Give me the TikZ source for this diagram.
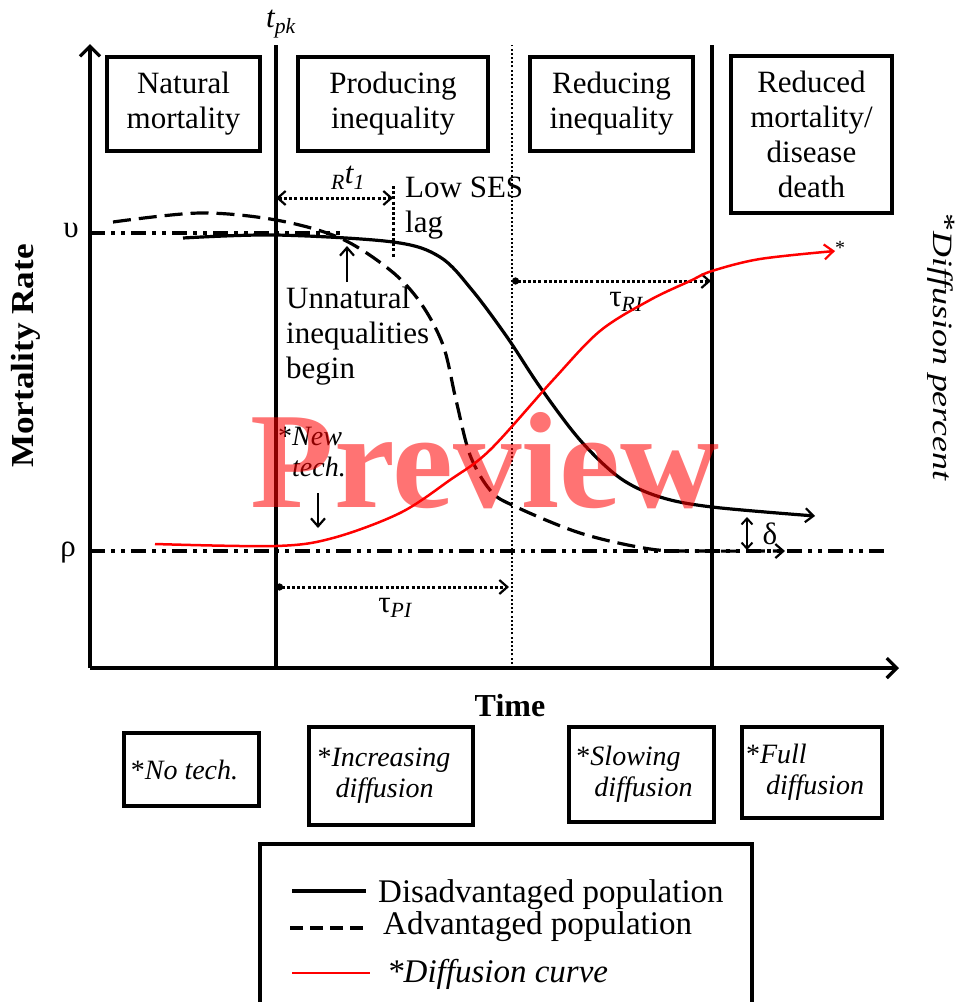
\documentclass[tikz,border=0pt]{standalone}
\usepackage{fontspec}
\setmainfont{Liberation Serif}
\usepackage{graphicx}
\usetikzlibrary{arrows.meta}
\newcommand\fA{\fontsize{31}{35}\selectfont}
\newcommand\fB{\fontsize{28}{31}\selectfont}
\tikzset{
  box/.style={draw, line width=3.6pt, align=center, inner sep=0pt, font=\fA},
  bbox/.style={draw, line width=3.4pt, align=left, inner sep=0pt, font=\fB\itshape},
  lbl/.style={inner sep=0pt, font=\fA},
  axisline/.style={line width=3.6pt, -{Straight Barb[length=10pt,width=20pt,line width=3.2pt]}},
  phase/.style={line width=3.8pt},
  ddotline/.style={line width=3.6pt, dash pattern=on 15pt off 6pt on 4pt off 6pt on 4pt off 6pt},
  thindot/.style={line width=2pt, dash pattern=on 2pt off 2.2pt},
  dotarr/.style={line width=3pt, dash pattern=on 3pt off 2.2pt},
  disadv/.style={line width=3.2pt},
  adv/.style={line width=3.2pt, dash pattern=on 18pt off 8pt},
  diffc/.style={line width=2.5pt, red},
  smallarr/.style={line width=2.6pt},
}
\begin{document}
\begin{tikzpicture}[x=1pt,y=-1pt,>={Straight Barb[length=8pt,width=14pt,line width=2.2pt]}]
\useasboundingbox (0,0) rectangle (962,1002);
\clip (0,0) rectangle (962,1002);

% axes
\coordinate (O) at (90,668);
\coordinate (ytop) at (90,44);
\coordinate (xend) at (899,668);
\draw[axisline] (O) -- (ytop);
\draw[axisline] (O) -- (xend);

% phase lines
\coordinate (pkT) at (276,45); \coordinate (pkB) at (276,668);
\coordinate (dT) at (512,45); \coordinate (dB) at (512,668);
\coordinate (fT) at (712,45); \coordinate (fB) at (712,668);
\draw[phase] (pkB) -- (pkT);
\draw[thindot] (dB) -- (dT);
\draw[phase] (fB) -- (fT);

% level lines
\coordinate (uL) at (90,233); \coordinate (uR) at (340,233);
\coordinate (rL) at (90,551); \coordinate (rR) at (888,551);
\draw[ddotline] (uL) -- (uR);
\draw[ddotline] (rL) -- (rR);

% axis labels
\node[lbl] (upsilon) at (71,230) {υ};
\node[lbl] (rho) at (68,553) {ρ};
\node[lbl, font=\fA\itshape] (tpk) at (281,24) {t\textsubscript{pk}};
\node[inner sep=0pt, rotate=90, font=\fontsize{32}{32}\selectfont\bfseries] (mrate) at (26,356) {\scalebox{1.1}[1]{Mortality Rate}};
\node[inner sep=0pt, rotate=-90, font=\fontsize{28}{28}\selectfont\itshape] (dperc) at (941,347) {\scalebox{1.28}[1]{\raisebox{3pt}{\upshape*}Diffusion percent}};
\node[lbl, font=\fontsize{32}{32}\selectfont\bfseries] (time) at (510,706) {Time};

% top phase boxes
\node[box, minimum width=153pt, minimum height=94pt] (nat) at (183.5,104) {Natural\\mortality};
\node[box, minimum width=190pt, minimum height=94pt] (prod) at (393,104) {Producing\\inequality};
\node[box, minimum width=163pt, minimum height=94pt] (redi) at (611.5,104) {Reducing\\inequality};
\node[box, minimum width=161pt, minimum height=157pt] (redm) at (811.5,134.5) {Reduced\\mortality/\\disease\\death};

% lag
\coordinate (lagS) at (276,198); \coordinate (lagE) at (393,198);
\coordinate (lagT) at (393,186); \coordinate (lagB) at (393,258);
\draw[dotarr] (lagT) -- (lagB);
\draw[dotarr, <->] (lagS) -- (lagE);
\node[lbl, font=\fA\itshape] (rt1) at (348,178) {\textsubscript{R}t\textsubscript{1}};
\node[lbl, anchor=north west, align=left] (ses) at (405,177) {Low SES\\lag};

% unnatural inequalities
\node[lbl, anchor=north west, align=left] (unat) at (286,287) {Unnatural\\inequalities\\begin};
\coordinate (uaB) at (347,282); \coordinate (uaT) at (347,246);
\draw[smallarr, ->] (uaB) -- (uaT);

% new tech
\node[lbl, font=\fB\itshape, anchor=north west, align=left] (newt) at (292,427) {\llap{\upshape*}New\\tech.};
\coordinate (ntT) at (318,493); \coordinate (ntB) at (318,528);
\draw[smallarr, ->] (ntT) -- (ntB);

% tau arrows
\coordinate (riS) at (512,281); \coordinate (riE) at (711,281);
\draw[dotarr, {Circle[length=7pt]}->] (riS) -- (riE);
\node[lbl] (tri) at (626,302) {τ\textsubscript{\itshape RI}};
\coordinate (piS) at (276,587); \coordinate (piE) at (509,587);
\draw[dotarr, {Circle[length=7pt]}->] (piS) -- (piE);
\node[lbl] (tpi) at (395,608) {τ\textsubscript{\itshape PI}};

% delta
\coordinate (deT) at (747,517); \coordinate (deB) at (747,550);
\draw[smallarr, {Straight Barb[length=6pt,width=11pt,line width=2pt]}-{Straight Barb[length=6pt,width=11pt,line width=2pt]}] (deT) -- (deB);
\node[lbl] (delta) at (770,534) {δ};

% curves
\draw[adv, ->] plot[smooth, tension=0.55] coordinates {(113,222) (200,213) (276,220) (340,238) (390,270) (420,302) (443,345) (456,400) (470,455) (490,490) (512,505) (580,533) (650,549) (700,551) (785,551)};
\draw[disadv, ->] plot[smooth, tension=0.55] coordinates {(183,238) (276,235) (393,242) (440,257) (472,290) (507,337) (540,387) (580,440) (620,478) (660,497) (712,507) (815,516)};
\draw[diffc, ->, >={Straight Barb[length=9pt,width=15pt,line width=2.2pt]}] plot[smooth, tension=0.55] coordinates {(155,544) (276,546) (333,538) (400,513) (450,480) (490,450) (553,380) (600,331) (650,300) (690,281) (712,271) (760,259) (835,251)};
\node[inner sep=0pt, font=\fontsize{20}{20}\selectfont] (ast) at (840,248) {*};

% bottom boxes
\node[bbox, minimum width=135pt, minimum height=73pt] (notech) at (191.5,769.5) {\llap{\upshape*}No tech.};
\node[bbox, minimum width=164pt, minimum height=98pt] (incd) at (391,776) {\llap{\upshape*}Increasing\\\hspace*{4pt}diffusion};
\node[bbox, minimum width=145pt, minimum height=95pt] (slowd) at (641.5,774.5) {\llap{\upshape*}Slowing\\\hspace*{4pt}diffusion};
\node[bbox, minimum width=140pt, minimum height=91pt] (fulld) at (812,772.5) {\llap{\upshape*}Full\\\hspace*{6pt}diffusion};

% legend
\draw[line width=3.6pt] (260,844) rectangle (752,1030);
\coordinate (l1a) at (292,891); \coordinate (l1b) at (366,891);
\coordinate (l2a) at (290,928); \coordinate (l2b) at (366,928);
\coordinate (l3a) at (292,973); \coordinate (l3b) at (370,973);
\draw[disadv] (l1a) -- (l1b);
\draw[line width=4pt, dash pattern=on 13pt off 7pt] (l2a) -- (l2b);
\draw[diffc] (l3a) -- (l3b);
\node[lbl, anchor=base west, font=\fontsize{33}{33}\selectfont] (l1t) at (378,902) {Disadvantaged population};
\node[lbl, anchor=base west, font=\fontsize{33}{33}\selectfont] (l2t) at (383,934) {Advantaged population};
\node[lbl, anchor=base west, font=\fontsize{33}{33}\selectfont\itshape] (l3t) at (387,982) {*Diffusion curve};

% watermark
\node[inner sep=0pt, text=red, text opacity=0.55, font=\fontsize{137}{137}\selectfont\bfseries] (wm) at (485,461) {Preview};
\end{tikzpicture}
\end{document}
